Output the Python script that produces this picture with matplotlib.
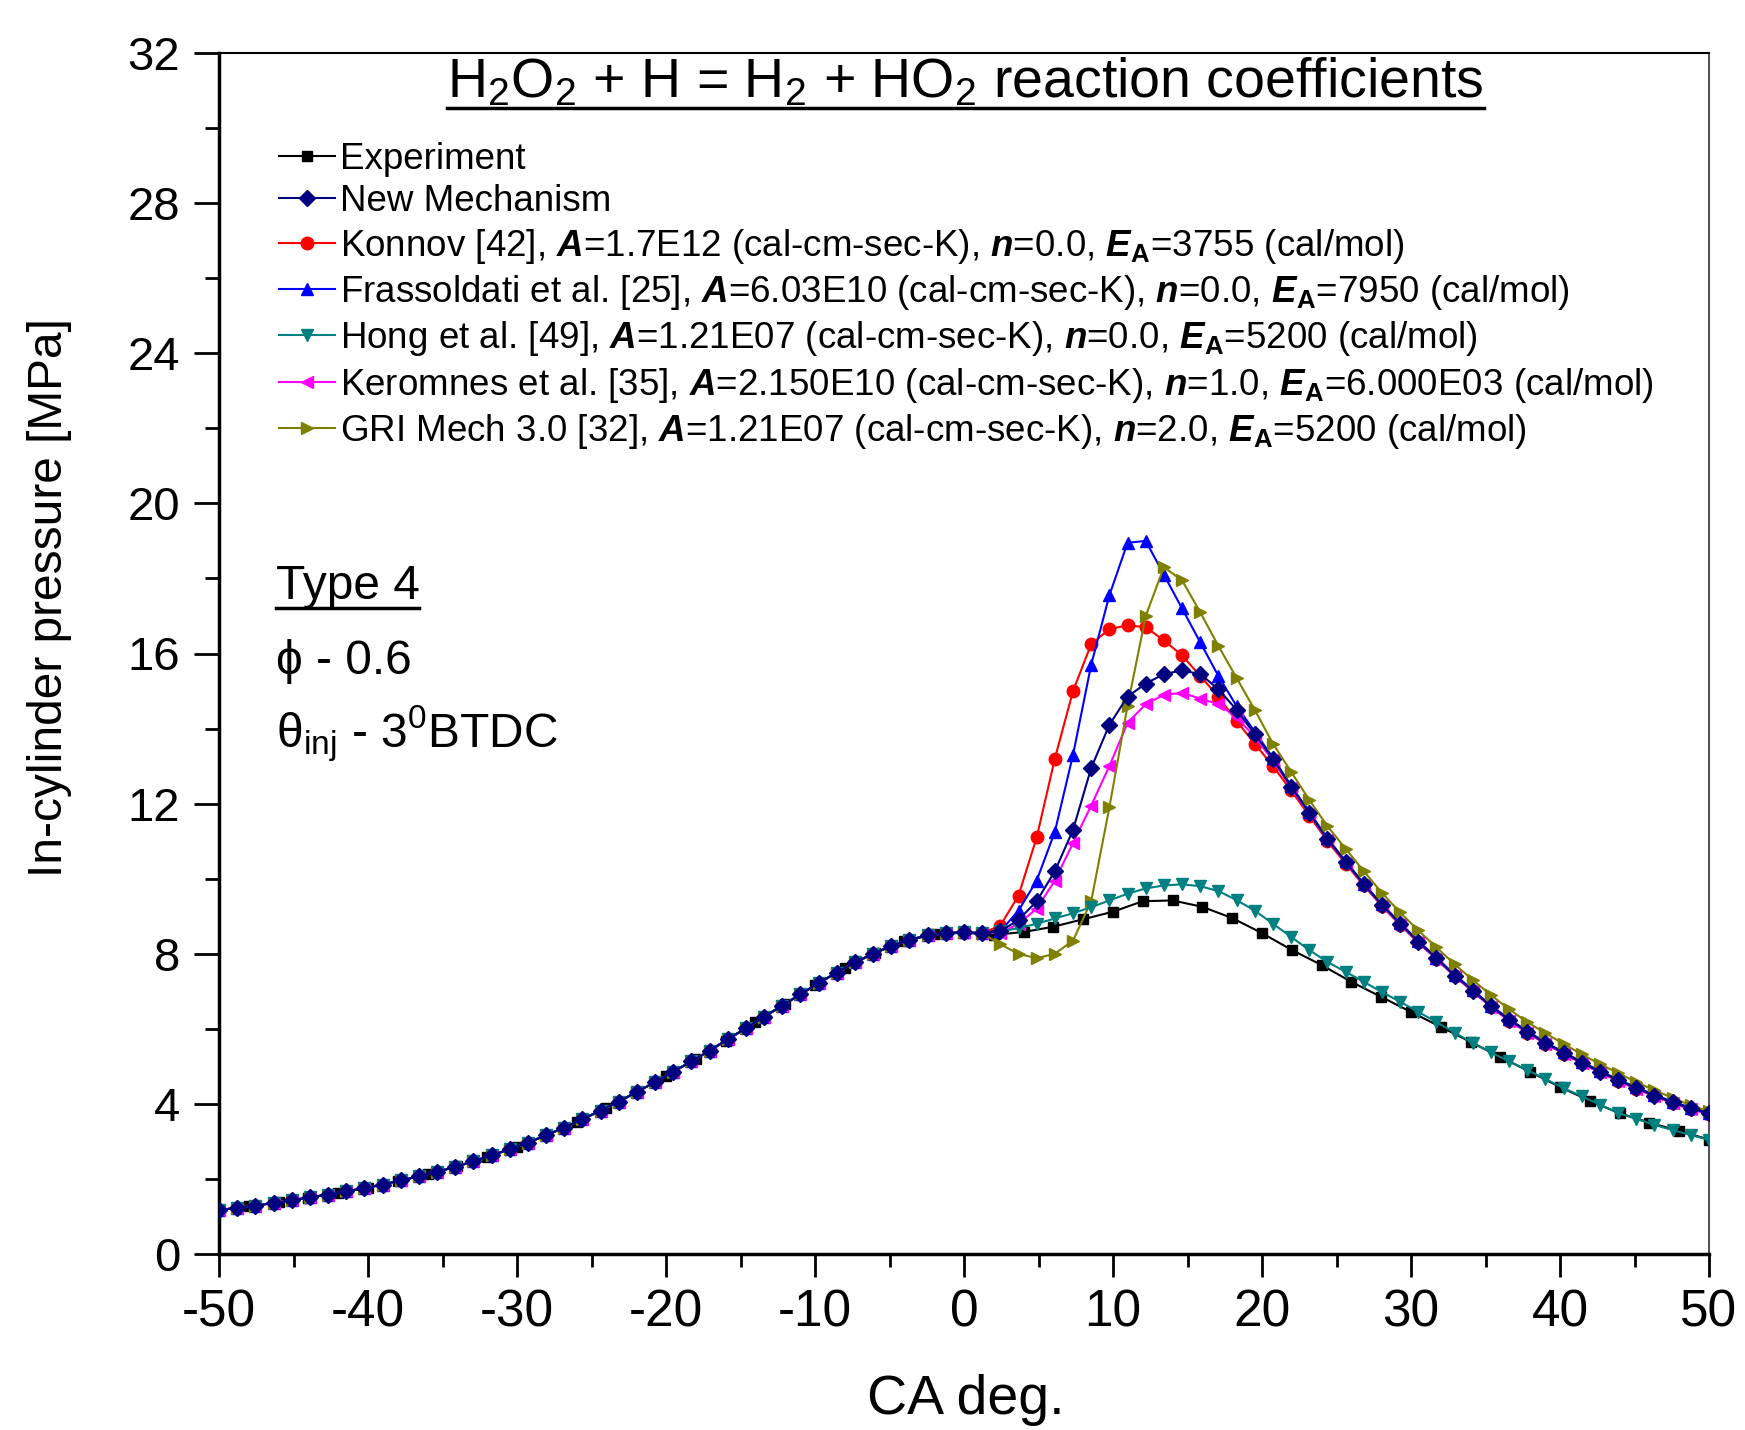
import numpy as np
import matplotlib.pyplot as plt
from matplotlib.ticker import MultipleLocator
from matplotlib.lines import Line2D

plt.rcParams['font.family'] = ['Liberation Sans', 'DejaVu Sans']
plt.rcParams['mathtext.fontset'] = 'custom'
plt.rcParams['mathtext.rm'] = 'Liberation Sans'
plt.rcParams['mathtext.it'] = 'Liberation Sans:italic'
plt.rcParams['mathtext.bf'] = 'Liberation Sans:bold'
plt.rcParams['mathtext.bfit'] = 'Liberation Sans:bold:italic'
plt.rcParams['axes.unicode_minus'] = False

# crank angle grids (deg)
ca_model = np.linspace(-50, 50, 83)
ca_exp = np.arange(-50, 51, 2)

# common compression stroke of all simulations, -50 .. 1.2 deg
compression = [1.17, 1.23, 1.29, 1.36, 1.43, 1.51, 1.58, 1.67, 1.75, 1.85,
               1.96, 2.07, 2.19, 2.32, 2.47, 2.63, 2.79, 2.97, 3.16, 3.37,
               3.59, 3.82, 4.06, 4.32, 4.58, 4.86, 5.13, 5.42, 5.72, 6.02,
               6.32, 6.62, 6.92, 7.22, 7.50, 7.77, 8.00, 8.21, 8.37, 8.49,
               8.55, 8.57, 8.55]

# combustion / expansion part, 2.4 .. 50 deg
new_mech_comb = [8.60, 8.90, 9.40, 10.20, 11.30, 12.95, 14.10, 14.85, 15.20, 15.45,
                 15.55, 15.45, 15.05, 14.50, 13.85, 13.20, 12.45, 11.75, 11.05, 10.45,
                 9.85, 9.30, 8.80, 8.32, 7.88, 7.42, 7.02, 6.60, 6.24, 5.92,
                 5.62, 5.36, 5.10, 4.86, 4.63, 4.42, 4.22, 4.04, 3.88, 3.75]
konnov_comb = [8.75, 9.55, 11.10, 13.20, 15.00, 16.25, 16.65, 16.75, 16.70, 16.35,
               15.95, 15.40, 14.85, 14.20, 13.60, 13.00, 12.35, 11.68, 11.00, 10.40,
               9.82, 9.27, 8.77, 8.30, 7.86, 7.40, 7.00, 6.58, 6.22, 5.90,
               5.60, 5.34, 5.08, 4.84, 4.61, 4.40, 4.20, 4.02, 3.86, 3.73]
frassoldati_comb = [8.60, 9.15, 9.95, 11.25, 13.30, 15.70, 17.55, 18.95, 19.00, 18.10,
                    17.20, 16.30, 15.40, 14.60, 13.92, 13.22, 12.48, 11.78, 11.08, 10.47,
                    9.87, 9.32, 8.82, 8.34, 7.90, 7.44, 7.04, 6.62, 6.26, 5.94,
                    5.64, 5.38, 5.12, 4.88, 4.65, 4.44, 4.24, 4.06, 3.90, 3.77]
hong_comb = [8.60, 8.68, 8.80, 8.94, 9.08, 9.24, 9.42, 9.60, 9.74, 9.82,
             9.85, 9.80, 9.67, 9.43, 9.15, 8.80, 8.45, 8.10, 7.78, 7.52,
             7.25, 6.98, 6.72, 6.45, 6.18, 5.90, 5.62, 5.37, 5.13, 4.90,
             4.66, 4.42, 4.20, 3.98, 3.76, 3.60, 3.44, 3.30, 3.17, 3.04]
keromnes_comb = [8.55, 8.80, 9.20, 9.95, 10.95, 11.95, 13.00, 14.15, 14.65, 14.90,
                 14.95, 14.80, 14.65, 14.30, 13.78, 13.15, 12.42, 11.72, 11.03, 10.43,
                 9.83, 9.28, 8.78, 8.30, 7.86, 7.40, 7.00, 6.58, 6.22, 5.90,
                 5.60, 5.34, 5.08, 4.84, 4.61, 4.40, 4.20, 4.02, 3.86, 3.73]
gri_comb = [8.25, 8.00, 7.88, 8.00, 8.35, 9.40, 11.90, 14.60, 17.00, 18.30,
            17.95, 17.10, 16.20, 15.35, 14.50, 13.60, 12.85, 12.10, 11.40, 10.80,
            10.20, 9.62, 9.10, 8.62, 8.17, 7.72, 7.30, 6.90, 6.52, 6.18,
            5.88, 5.60, 5.32, 5.06, 4.82, 4.58, 4.36, 4.16, 3.96, 3.80]

experiment = [1.17, 1.27, 1.38, 1.50, 1.63, 1.77, 1.94, 2.13, 2.34, 2.59,
              2.86, 3.17, 3.52, 3.90, 4.31, 4.74, 5.20, 5.68, 6.17, 6.67,
              7.16, 7.62, 8.02, 8.33, 8.52, 8.56, 8.50, 8.58, 8.72, 8.92,
              9.12, 9.40, 9.42, 9.25, 8.95, 8.55, 8.10, 7.70, 7.25, 6.85,
              6.45, 6.05, 5.65, 5.25, 4.85, 4.45, 4.08, 3.75, 3.50, 3.28, 3.05]

labels = [
    "Experiment",
    "New Mechanism",
    r"Konnov [42], $\mathbfit{A}$=1.7E12 (cal-cm-sec-K), $\mathbfit{n}$=0.0, $\mathbfit{E}_{\mathbf{A}}$=3755 (cal/mol)",
    r"Frassoldati et al. [25], $\mathbfit{A}$=6.03E10 (cal-cm-sec-K), $\mathbfit{n}$=0.0, $\mathbfit{E}_{\mathbf{A}}$=7950 (cal/mol)",
    r"Hong et al. [49], $\mathbfit{A}$=1.21E07 (cal-cm-sec-K), $\mathbfit{n}$=0.0, $\mathbfit{E}_{\mathbf{A}}$=5200 (cal/mol)",
    r"Keromnes et al. [35], $\mathbfit{A}$=2.150E10 (cal-cm-sec-K), $\mathbfit{n}$=1.0, $\mathbfit{E}_{\mathbf{A}}$=6.000E03 (cal/mol)",
    r"GRI Mech 3.0 [32], $\mathbfit{A}$=1.21E07 (cal-cm-sec-K), $\mathbfit{n}$=2.0, $\mathbfit{E}_{\mathbf{A}}$=5200 (cal/mol)",
]

fig = plt.figure(figsize=(17.45, 14.3), dpi=100)
ax = fig.add_axes([219 / 1745, 1 - 1254 / 1430, 1490 / 1745, 1201 / 1430])

lw = 1.5
h = {}
h['exp'], = ax.plot(ca_exp, experiment, '-s', color='black', lw=lw, ms=7, zorder=3)
h['kon'], = ax.plot(ca_model, compression + konnov_comb, '-o', color='#ff0000', lw=lw, ms=9, zorder=4)
h['fra'], = ax.plot(ca_model, compression + frassoldati_comb, '-^', color='#0000ff', lw=lw, ms=9, zorder=5)
h['ker'], = ax.plot(ca_model, compression + keromnes_comb, '-<', color='#ff00ff', lw=lw, ms=9, zorder=6)
h['gri'], = ax.plot(ca_model, compression + gri_comb, '->', color='#808000', lw=lw, ms=9, zorder=7)
h['hon'], = ax.plot(ca_model, compression + hong_comb, '-v', color='#008080', lw=lw, ms=9, zorder=8)
h['new'], = ax.plot(ca_model, compression + new_mech_comb, '-D', color='#000080', lw=lw, ms=8, zorder=9)

order = ['exp', 'new', 'kon', 'fra', 'hon', 'ker', 'gri']
ax.legend([h[k] for k in order], labels, loc='upper left', bbox_to_anchor=(0.040, 0.926),
          frameon=False, fontsize=26.5, handlelength=1.52, handletextpad=0.16,
          labelspacing=0.2, borderpad=0, borderaxespad=0)

ax.set_xlim(-50, 50)
ax.set_ylim(0, 32)
ax.xaxis.set_major_locator(MultipleLocator(10))
ax.xaxis.set_minor_locator(MultipleLocator(5))
ax.yaxis.set_major_locator(MultipleLocator(4))
ax.yaxis.set_minor_locator(MultipleLocator(2))
ax.tick_params(axis='both', which='both', direction='out', top=False, right=False, width=2)
ax.tick_params(axis='y', which='major', length=18, pad=10, labelsize=34)
ax.tick_params(axis='y', which='minor', length=10)
ax.tick_params(axis='x', which='major', length=16.5, pad=8, labelsize=37)
ax.tick_params(axis='x', which='minor', length=9)
for s in ['left', 'bottom']:
    ax.spines[s].set_linewidth(2.5)
ax.spines['top'].set_linewidth(1.5)
ax.spines['right'].set_linewidth(1.5)
ax.spines['right'].set_color('#555555')

# axis titles placed in figure pixels
fig.text(966 / 1745, 1 - 1400 / 1430, "CA deg.", ha='center', va='center', fontsize=40)
fig.text(50 / 1745, 1 - 598 / 1430, "In-cylinder pressure [MPa]", ha='center', va='center',
         rotation=90, fontsize=34.5)

title = ax.text(0.501, 0.975, r"H$_2$O$_2$ + H = H$_2$ + HO$_2$ reaction coefficients",
                transform=ax.transAxes, ha='center', va='center', fontsize=40)
type_txt = ax.text(0.038, 0.556, "Type 4", transform=ax.transAxes, ha='left', va='center', fontsize=34.5)
ax.text(0.038, 0.493, "ϕ - 0.6", transform=ax.transAxes, ha='left', va='center', fontsize=34.5)
ax.text(0.038, 0.433, r"θ$_{\mathrm{inj}}$ - 3$^{0}$BTDC", transform=ax.transAxes,
        ha='left', va='center', fontsize=34.5)

# underline the title and the "Type 4" label
fig.canvas.draw()
renderer = fig.canvas.get_renderer()
W, H = fig.bbox.width, fig.bbox.height
for t in [title, type_txt]:
    bb = t.get_window_extent(renderer)
    y = bb.y0 + 1
    fig.add_artist(Line2D([bb.x0 / W, bb.x1 / W], [y / H, y / H],
                          transform=fig.transFigure, color='black', lw=2.5))

fig.savefig("out.png", dpi=100)
